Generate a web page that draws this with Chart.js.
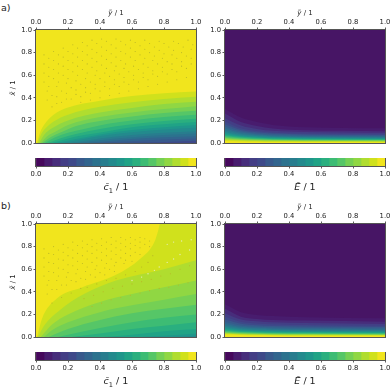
<!DOCTYPE html>
<html>
<head>
<meta charset="utf-8">
<script src="https://cdn.jsdelivr.net/npm/chart.js@4"></script>
<style>
    html, body { margin: 0; padding: 0; background: #fff; }
    #page { position: relative; width: 392px; height: 387px; overflow: hidden; font-family: "DejaVu Sans", sans-serif; color: #222; }
    canvas { position: absolute; }
    .tag { position: absolute; left: 1px; font-size: 9.5px; line-height: 12px; }
    .note { position: absolute; left: 41px; font-size: 7px; line-height: 10px; white-space: nowrap; }
    .note sub, .title sub { font-size: 70%; line-height: 0; }
    .title { position: absolute; line-height: 12px; height: 12px; white-space: nowrap; transform: translate(-50%, -50%); }
</style>
</head>
<body>
<div id="page">
    <span class="tag" style="top:2px">a)</span>
    <span class="tag" style="top:200px">b)</span>
    <span class="note" style="top:32px"><i>X</i><sub>1</sub> = 0.112</span>
    <span class="note" style="top:226px"><i>X</i><sub>1</sub> = 0.183</span>
</div>
<script>
(function () {
    "use strict";

    const tickLabels = ['0.0', '0.2', '0.4', '0.6', '0.8', '1.0'];

    // one colour per 0.05 wide band, lowest first
    const levelColors = ['#46085c', '#481c6e', '#472d7b', '#433e85', '#3e4989', '#38598c', '#32658e', '#2c728e', '#287d8e', '#238a8d',
        '#1f968b', '#20a386', '#2aaf7f', '#3dbc74', '#56c667', '#75d054', '#90d743', '#b0dd2f', '#d0e11c', '#f1e51d'];
    const levelWidths = [.05, .05, .05, .05, .05, .05, .05, .05, .05, .05, .05, .05, .05, .05, .05, .05, .05, .05, .05, .05];
    const eTopColor = '#471565'; // flat part of the E panels reads a little lighter than the colorbar

    const topEdge = [[0, 1], [1, 1]];

    // panel a, c: contour lines from 0.95 downwards
    const a95 = [[.006, 0], [.012, .03], [.03, .11], [.05, .16], [.11, .25], [.19, .31], [.4, .375], [.6, .415], [.8, .44], [1, .455]];
    const a90 = [[.012, 0], [.03, .07], [.06, .13], [.11, .19], [.2, .25], [.4, .32], [.6, .36], [.8, .39], [1, .41]];
    const a85 = [[.02, 0], [.05, .07], [.1, .13], [.2, .2], [.4, .27], [.6, .31], [.8, .345], [1, .365]];
    const a80 = [[.03, 0], [.07, .06], [.12, .1], [.2, .16], [.4, .23], [.6, .27], [.8, .3], [1, .325]];
    const a75 = [[.04, 0], [.09, .05], [.15, .09], [.25, .15], [.4, .195], [.6, .235], [.8, .265], [1, .285]];
    const a70 = [[.055, 0], [.12, .05], [.2, .09], [.3, .125], [.45, .17], [.6, .2], [.8, .23], [1, .25]];
    const a65 = [[.075, 0], [.15, .04], [.25, .08], [.4, .125], [.6, .165], [.8, .195], [1, .215]];
    const a60 = [[.1, 0], [.2, .04], [.3, .07], [.45, .105], [.6, .14], [.8, .165], [1, .185]];
    const a55 = [[.13, 0], [.25, .035], [.4, .075], [.6, .115], [.8, .14], [1, .16]];
    const a50 = [[.17, 0], [.3, .035], [.45, .07], [.6, .095], [.8, .12], [1, .135]];
    const a45 = [[.22, 0], [.4, .04], [.6, .07], [.8, .09], [1, .105]];
    const a40 = [[.27, 0], [.4, .025], [.6, .05], [.8, .07], [1, .085]];
    const a35 = [[.33, 0], [.45, .015], [.6, .035], [.8, .05], [1, .06]];
    const a30 = [[.4, 0], [.6, .015], [.8, .03], [1, .04]];
    const a25 = [[.55, 0], [.7, .005], [.85, .012], [1, .02]];
    const contoursA = [topEdge, a95, a90, a85, a80, a75, a70, a65, a60, a55, a50, a45, a40, a35, a30, a25];

    // panel b, c
    const b95 = [[.006, 0], [.012, .03], [.037, .16], [.13, .34], [.29, .44], [.5, .55], [.65, .69], [.74, .84], [.765, .95], [.775, 1], [1, 1]];
    const b90 = [[.012, 0], [.05, .1], [.15, .24], [.3, .38], [.5, .5], [.8, .6], [1, .68]];
    const b85 = [[.03, 0], [.1, .11], [.2, .2], [.4, .31], [.6, .38], [.8, .44], [1, .5]];
    const b80 = [[.05, 0], [.1, .06], [.2, .13], [.4, .22], [.6, .28], [.8, .33], [1, .38]];
    const b75 = [[.08, 0], [.2, .07], [.4, .15], [.6, .21], [.8, .25], [1, .285]];
    const b70 = [[.14, 0], [.2, .02], [.4, .08], [.6, .13], [.8, .17], [1, .2]];
    const b65 = [[.22, 0], [.4, .03], [.6, .07], [.8, .1], [1, .13]];
    const b60 = [[.42, 0], [.6, .02], [.8, .05], [1, .07]];
    const b55 = [[.65, 0], [.8, .01], [1, .03]];
    const b50 = [[.8, 0], [.9, .003], [1, .01]];
    const contoursB = [topEdge, b95, b90, b85, b80, b75, b70, b65, b60, b55, b50];

    // panels E: heights at these positions, from 0.05 upwards
    const eX = [0, .1, .2, .3, .5, 1];
    const eLinesA = [
        [.3, .225, .185, .16, .14, .13], [.26, .185, .15, .128, .112, .105], [.22, .155, .125, .108, .097, .09], [.19, .13, .107, .094, .084, .078],
        [.165, .115, .095, .083, .075, .07], [.145, .103, .085, .075, .067, .063], [.128, .092, .076, .067, .06, .056], [.113, .082, .068, .06, .054, .05],
        [.1, .073, .061, .054, .049, .045], [.088, .065, .055, .048, .043, .04], [.078, .058, .049, .043, .039, .036], [.069, .052, .044, .039, .035, .032],
        [.061, .046, .039, .034, .031, .028], [.054, .041, .034, .03, .027, .025], [.047, .036, .03, .026, .024, .022], [.04, .031, .026, .023, .021, .019],
        [.033, .026, .022, .019, .018, .016], [.026, .02, .017, .015, .014, .012], [.018, .013, .011, .009, .008, .007]
    ];
    const eLinesB = [
        [.29, .22, .195, .185, .175, .165], [.25, .18, .16, .15, .145, .135], [.21, .155, .14, .13, .125, .115], [.18, .135, .12, .112, .107, .1],
        [.155, .118, .105, .098, .093, .088], [.135, .102, .092, .086, .082, .077], [.118, .09, .081, .076, .072, .067], [.102, .08, .072, .067, .063, .059],
        [.09, .07, .063, .059, .056, .052], [.08, .062, .056, .052, .049, .046], [.07, .055, .05, .046, .044, .041], [.062, .049, .044, .041, .039, .036],
        [.055, .044, .039, .036, .034, .032], [.049, .039, .035, .032, .03, .028], [.043, .034, .031, .028, .026, .024], [.038, .03, .027, .025, .023, .021],
        [.033, .026, .023, .021, .019, .018], [.028, .022, .019, .018, .016, .015], [.023, .018, .015, .014, .012, .012]
    ];

    // stipple marks in the flat parts of panels a and b
    const dotsA = [
        [.05, .78], [.11, .81], [.17, .84], [.23, .87], [.29, .89], [.35, .91], [.41, .92],
        [.08, .75], [.14, .78], [.2, .81], [.26, .84], [.32, .86], [.38, .88], [.44, .9], [.5, .92],
        [.05, .7], [.11, .73], [.17, .76], [.23, .79], [.29, .81], [.35, .83], [.41, .85], [.47, .87], [.53, .9], [.59, .91],
        [.08, .67], [.14, .7], [.2, .73], [.26, .76], [.32, .78], [.38, .8], [.44, .82], [.5, .84], [.56, .87], [.62, .89], [.68, .91],
        [.05, .62], [.11, .65], [.17, .68], [.23, .71], [.29, .73], [.35, .75], [.41, .77], [.47, .79], [.53, .81], [.59, .84], [.65, .86], [.71, .88], [.77, .9],
        [.08, .59], [.14, .62], [.2, .65], [.26, .68], [.32, .7], [.38, .72], [.44, .74], [.5, .76], [.56, .79], [.62, .81], [.68, .83], [.74, .85], [.8, .88], [.86, .9],
        [.05, .54], [.11, .57], [.17, .6], [.23, .63], [.29, .65], [.35, .67], [.41, .69], [.47, .71], [.53, .73], [.59, .76], [.65, .78], [.71, .8], [.77, .82], [.83, .85], [.89, .88], [.95, .91],
        [.08, .5], [.14, .54], [.2, .57], [.26, .6], [.32, .62], [.38, .64], [.44, .66], [.5, .68], [.56, .7], [.62, .73], [.68, .75], [.74, .77], [.8, .79], [.86, .82], [.92, .85], [.98, .87],
        [.07, .46], [.13, .5], [.19, .53], [.25, .55], [.31, .57], [.37, .6], [.43, .62], [.49, .64], [.55, .66], [.61, .68], [.67, .7], [.73, .73], [.79, .75], [.85, .78], [.91, .8], [.97, .83],
        [.1, .42], [.16, .46], [.22, .49], [.28, .52], [.34, .54], [.4, .57], [.46, .59], [.52, .61], [.58, .63], [.64, .65], [.7, .67], [.76, .7], [.82, .72], [.88, .75], [.94, .77],
        [.07, .38], [.13, .41], [.19, .44], [.25, .47], [.31, .49], [.37, .52], [.43, .54], [.49, .56], [.55, .58], [.61, .6], [.67, .62], [.73, .64], [.79, .67], [.85, .7], [.91, .72], [.97, .75],
        [.13, .35], [.19, .39], [.25, .43], [.31, .45], [.37, .48], [.43, .5], [.49, .52], [.55, .54], [.61, .56], [.67, .58], [.73, .61], [.79, .63], [.85, .65], [.91, .68], [.97, .7],
        [.1, .32], [.16, .36], [.22, .39], [.28, .41], [.34, .44], [.4, .46], [.46, .48], [.52, .5], [.58, .52], [.64, .54], [.7, .56], [.76, .59], [.82, .61], [.88, .63], [.94, .66],
        [.28, .36], [.34, .38], [.4, .4], [.46, .42], [.52, .44], [.58, .46], [.64, .48], [.7, .5], [.76, .52], [.82, .54], [.88, .56], [.94, .58]
    ];
    const dotsB = [
        [.05, .78], [.11, .8], [.17, .82], [.23, .84], [.29, .85], [.35, .86], [.41, .87], [.47, .88], [.53, .88], [.59, .88], [.65, .88],
        [.08, .74], [.14, .77], [.2, .79], [.26, .81], [.32, .82], [.38, .83], [.44, .84], [.5, .85], [.56, .86], [.62, .86], [.68, .87],
        [.05, .7], [.11, .73], [.17, .75], [.23, .77], [.29, .79], [.35, .8], [.41, .81], [.47, .82], [.53, .83], [.59, .83], [.65, .84], [.71, .85],
        [.08, .66], [.14, .69], [.2, .72], [.26, .74], [.32, .76], [.38, .77], [.44, .78], [.5, .79], [.56, .8], [.62, .81], [.68, .82],
        [.05, .62], [.11, .65], [.17, .68], [.23, .7], [.29, .72], [.35, .74], [.41, .75], [.47, .76], [.53, .77], [.59, .78], [.65, .79], [.71, .8],
        [.08, .58], [.14, .61], [.2, .64], [.26, .67], [.32, .69], [.38, .7], [.44, .72], [.5, .73], [.56, .74], [.62, .75],
        [.05, .54], [.11, .57], [.17, .6], [.23, .63], [.29, .65], [.35, .66], [.41, .68], [.47, .69], [.53, .7], [.59, .72], [.65, .73],
        [.08, .5], [.14, .54], [.2, .57], [.26, .6], [.32, .62], [.38, .63], [.44, .65], [.5, .66], [.56, .68],
        [.07, .46], [.13, .5], [.19, .53], [.25, .56], [.31, .58], [.37, .6], [.43, .61], [.49, .63], [.55, .65], [.6, .67],
        [.1, .42], [.16, .46], [.22, .5], [.28, .52], [.34, .55], [.4, .57], [.46, .6],
        [.07, .38], [.13, .42], [.19, .46], [.25, .49], [.31, .51], [.37, .53], [.43, .55], [.49, .58],
        [.1, .3], [.16, .35], [.22, .39], [.28, .43],
        [.32, .44], [.38, .47], [.44, .5], [.5, .52], [.56, .55], [.62, .58], [.66, .62], [.7, .66], [.73, .72],
        [.3, .34], [.36, .37], [.42, .4], [.48, .43], [.54, .45], [.6, .47], [.66, .49], [.72, .51], [.78, .54], [.84, .56], [.9, .6], [.96, .63],
        [.35, .27], [.41, .3], [.47, .33], [.53, .35], [.59, .37], [.65, .39], [.71, .41], [.77, .43], [.83, .44], [.89, .46], [.95, .48]
    ];
    const paleDotsB = [[.6, .5], [.66, .53], [.7, .56], [.74, .59], [.77, .62], [.82, .66], [.86, .69], [.9, .73], [.96, .77], [.82, .82], [.86, .84], [.91, .85], [.97, .86]];

    const titleX = '<i>x̃</i> / 1', titleY = '<i>ỹ</i> / 1';
    const titleC = '<i>c̄</i><sub>1</sub> / 1', titleE = '<i>Ẽ̄</i> / 1';

    function toPoints(pairs) {
        return pairs.map(function (p) { return { x: p[0], y: p[1] }; });
    }

    function toLine(heights) {
        return heights.map(function (h, i) { return [eX[i], h]; });
    }

    // box around the axes, the spine on all four sides
    const framePlugin = {
        id: 'frame',
        afterDraw: function (chart) {
            const a = chart.chartArea, c = chart.ctx;
            c.save();
            c.strokeStyle = '#555';
            c.lineWidth = 1;
            c.strokeRect(Math.round(a.left) - 0.5, Math.round(a.top) - 0.5, Math.round(a.right - a.left) + 1, Math.round(a.bottom - a.top) + 1);
            c.restore();
        }
    };

    function addCanvas(left, top, width, height) {
        const canvas = document.createElement('canvas');
        canvas.width = width;
        canvas.height = height;
        canvas.style.left = left + 'px';
        canvas.style.top = top + 'px';
        canvas.style.width = width + 'px';
        canvas.style.height = height + 'px';
        document.getElementById('page').appendChild(canvas);
        return canvas;
    }

    function addTitle(html, x, y, size, rotate) {
        const span = document.createElement('span');
        span.className = 'title';
        span.innerHTML = html;
        span.style.left = x + 'px';
        span.style.top = y + 'px';
        span.style.fontSize = size + 'px';
        if (rotate) {
            span.style.transform = 'translate(-50%, -50%) rotate(-90deg)';
        }
        document.getElementById('page').appendChild(span);
    }

    function tickOptions() {
        return {
            color: '#222',
            font: { family: 'DejaVu Sans', size: 6.8 },
            padding: 1.5,
            autoSkip: false,
            maxRotation: 0,
            stepSize: 0.2,
            callback: function (value, index) { return tickLabels[index]; }
        };
    }

    function gridOptions() {
        return { drawOnChartArea: false, tickLength: 2.5, tickColor: '#333', lineWidth: 0.8 };
    }

    function drawPanel(left, top, contours, colorOf, dots, paleDots) {
        const canvas = addCanvas(left - 36, top - 30, 203, 151);

        // the library paints from the end of the array, so the first contour goes last
        const datasets = [];
        if (paleDots) {
            datasets.push({ data: toPoints(paleDots), showLine: false, pointRadius: 0.7, pointBorderWidth: 0, pointBackgroundColor: '#e4edb0' });
        }
        if (dots) {
            datasets.push({ data: toPoints(dots), showLine: false, pointRadius: 0.55, pointBorderWidth: 0, pointBackgroundColor: '#b9b627' });
        }
        for (let i = contours.length - 1; i >= 0; i--) {
            datasets.push({
                data: toPoints(contours[i]),
                fill: 'start',
                backgroundColor: colorOf(i),
                borderWidth: 0,
                pointRadius: 0,
                cubicInterpolationMode: 'monotone'
            });
        }

        new Chart(canvas, {
            type: 'line',
            data: { datasets: datasets },
            plugins: [framePlugin],
            options: {
                responsive: false,
                animation: false,
                devicePixelRatio: 1,
                layout: { padding: { right: 7, bottom: 8 } },
                plugins: { legend: { display: false }, tooltip: { enabled: false } },
                scales: {
                    x: {
                        type: 'linear',
                        position: 'top',
                        min: 0,
                        max: 1,
                        ticks: tickOptions(),
                        grid: gridOptions(),
                        border: { display: false },
                        afterFit: function (scale) { scale.height = 30; }
                    },
                    y: {
                        type: 'linear',
                        position: 'left',
                        min: 0,
                        max: 1,
                        ticks: tickOptions(),
                        grid: gridOptions(),
                        border: { display: false },
                        afterFit: function (scale) { scale.width = 36; }
                    }
                }
            }
        });

        addTitle(titleY, left + 80, top - 17, 7);
    }

    function drawColorbar(left, top, label) {
        const canvas = addCanvas(left - 36, top, 203, 40);
        const datasets = levelWidths.map(function (w, i) {
            return { data: [w], backgroundColor: levelColors[i], borderWidth: 0, barPercentage: 1, categoryPercentage: 1 };
        });

        new Chart(canvas, {
            type: 'bar',
            data: { labels: [''], datasets: datasets },
            plugins: [framePlugin],
            options: {
                indexAxis: 'y',
                responsive: false,
                animation: false,
                devicePixelRatio: 1,
                layout: { padding: { left: 36, right: 7, top: 0, bottom: 2 } },
                plugins: { legend: { display: false }, tooltip: { enabled: false } },
                scales: {
                    x: {
                        type: 'linear',
                        stacked: true,
                        position: 'bottom',
                        min: 0,
                        max: 1,
                        ticks: tickOptions(),
                        grid: gridOptions(),
                        border: { display: false },
                        afterFit: function (scale) { scale.height = 30; }
                    },
                    y: { stacked: true, display: false }
                }
            }
        });

        addTitle(label, left + 80, top + 29, 9.5);
    }

    const fromTop = function (i) { return levelColors[19 - i]; };
    const fromBottom = function (i) { return i === 0 ? eTopColor : levelColors[i]; };

    drawPanel(36, 30, contoursA, fromTop, dotsA, null);
    drawPanel(225, 30, [topEdge].concat(eLinesA.map(toLine)), fromBottom, null, null);
    drawPanel(36, 224, contoursB, fromTop, dotsB, paleDotsB);
    drawPanel(225, 224, [topEdge].concat(eLinesB.map(toLine)), fromBottom, null, null);

    addTitle(titleX, 13, 88, 7, true);
    addTitle(titleX, 13, 282, 7, true);

    drawColorbar(36, 158, titleC);
    drawColorbar(225, 158, titleE);
    drawColorbar(36, 352, titleC);
    drawColorbar(225, 352, titleE);
})();
</script>
</body>
</html>
